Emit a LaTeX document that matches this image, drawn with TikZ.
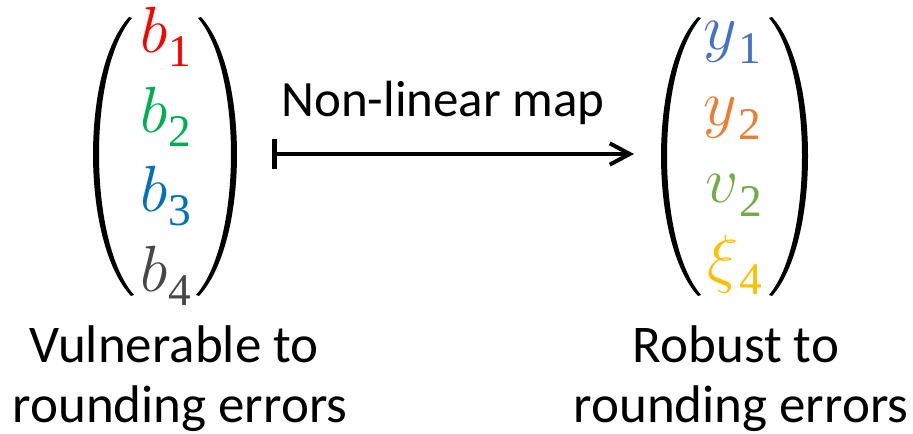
\documentclass[tikz,border=0pt]{standalone}
\usepackage{fix-cm}
\usepackage[no-math]{fontspec}
\setmainfont{Carlito}
\newfontfamily\subdigits{Liberation Serif}
\usetikzlibrary{arrows.meta}
\newcommand{\vent}[2]{$#1$\kern1pt\raisebox{-10pt}{\subdigits\fontsize{34}{34}\selectfont #2}}
\definecolor{cred}{HTML}{FF0000}
\definecolor{cgreen}{HTML}{00B050}
\definecolor{cblue}{HTML}{0070C0}
\definecolor{cgray}{HTML}{474747}
\definecolor{dblue}{HTML}{4472C4}
\definecolor{dorange}{HTML}{ED7D31}
\definecolor{dgreen}{HTML}{70AD47}
\definecolor{dgold}{HTML}{FFC000}
\begin{document}
\begin{tikzpicture}[x=0.75pt,y=-0.75pt,
  lbl/.style={font=\fontsize{39.75}{45}\selectfont, inner sep=0pt, anchor=base},
  ent/.style={font=\fontsize{49}{49}\selectfont, inner sep=0pt, anchor=base west},
  paren/.style={fill=black, draw=none}]
\useasboundingbox (0,0) rectangle (913,434);

% left vector
\fill[paren] (129,17) .. controls (80.7,70) and (80.7,242) .. (131,296) -- (134,295) .. controls (87.7,242) and (87.7,70) .. (132,18) -- cycle;
\fill[paren] (201,17) .. controls (249.3,70) and (249.3,242) .. (199,296) -- (196,295) .. controls (242.3,242) and (242.3,70) .. (198,18) -- cycle;
\node[ent, text=cred]  (b1) at (140,53)  {\vent{b}{1}};
\node[ent, text=cgreen](b2) at (140,133) {\vent{b}{2}};
\node[ent, text=cblue] (b3) at (140,212) {\vent{b}{3}};
\node[ent, text=cgray] (b4) at (140,292) {\vent{b}{4}};

% right vector
\fill[paren] (698,17) .. controls (648.7,70) and (648.7,242) .. (698,296) -- (701,295) .. controls (655.7,242) and (655.7,70) .. (701,18) -- cycle;
\fill[paren] (772,17) .. controls (820,70) and (820,242) .. (772,296) -- (769,295) .. controls (813,242) and (813,70) .. (769,18) -- cycle;
\node[ent, text=dblue]   (y1) at (703,50)  {\vent{y}{1}};
\node[ent, text=dorange] (y2) at (703,126) {\vent{y}{2}};
\node[ent, text=dgreen]  (v2) at (705,203) {\vent{v}{2}};
\node[ent, text=dgold]   (x4) at (707,281) {\vent{\xi}{4}};

% map
\node[lbl, font=\fontsize{38.2}{45}\selectfont] (nlm) at (443,117) {Non-linear map};
\coordinate (mapstart) at (272,154);
\coordinate (mapend) at (634,154);
\draw[line width=3pt, {Bar[width=22pt,line width=3.75pt]}-{Straight Barb[length=15pt,width=16pt,line width=3pt]}] (mapstart) -- (mapend);

% captions
\node[lbl] (vul1) at (174,362) {Vulnerable to};
\node[lbl] (vul2) at (180,422) {rounding errors};
\node[lbl] (rob1) at (736,362) {Robust to};
\node[lbl] (rob2) at (741,422) {rounding errors};
\end{tikzpicture}
\end{document}
